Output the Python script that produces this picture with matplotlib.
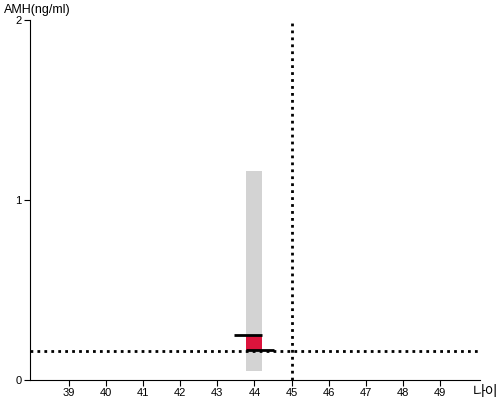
import matplotlib
matplotlib.use("Agg")
import matplotlib.pyplot as plt

plt.rcParams['font.family'] = ['Liberation Sans', 'Noto Sans CJK KR', 'DejaVu Sans']

# data
age = 44
range_low, range_high = 0.05, 1.16
box_low, box_high = 0.167, 0.25
top_line = (43.46, 44.21, 0.25)
bottom_line = (43.78, 44.54, 0.167)
ref_x = 45
ref_y = 0.16
xticks = list(range(39, 50))
yticks = [0, 1, 2]
bar_w = 0.43

fig = plt.figure(figsize=(5, 4), dpi=100)
ax = fig.add_axes([0.06, 0.05, 0.90, 0.90])
ax.set_xlim(37.95, 50.08)
ax.set_ylim(0, 2)

ax.bar([age], [range_high - range_low], bottom=[range_low], width=bar_w, color='#d3d3d3', zorder=1)
ax.bar([age], [box_high - box_low], bottom=[box_low], width=bar_w, color='#dc143c', zorder=2)
ax.hlines(top_line[2], top_line[0], top_line[1], color='black', lw=2, zorder=3)
ax.hlines(bottom_line[2], bottom_line[0], bottom_line[1], color='black', lw=2, zorder=5)
ax.axhline(ref_y, color='black', ls=(0, (1, 1.5)), lw=2, zorder=4)
ax.axvline(ref_x, color='black', ls=(0, (1, 1.5)), lw=2, zorder=4)

for s in ['top', 'right']:
    ax.spines[s].set_visible(False)
ax.set_xticks(xticks)
ax.set_yticks(yticks)
ax.tick_params(labelsize=8, length=4, pad=2)

fig.text(4/500, 1 - 10/400, 'AMH(ng/ml)', fontsize=9, va='center', ha='left')
fig.text(473/500, 1 - 392/400, '나이', fontsize=10, va='center', ha='left',
         family=['Noto Sans CJK KR', 'DejaVu Sans'])

fig.savefig('out.png', dpi=100)
